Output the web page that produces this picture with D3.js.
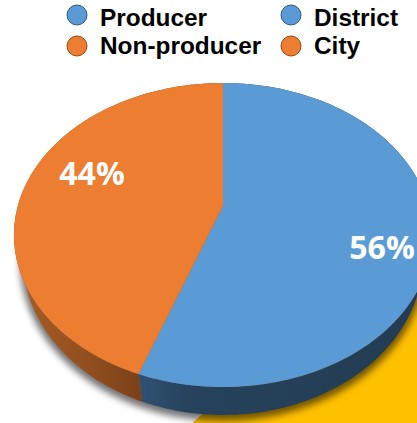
<!DOCTYPE html>
<html>
<head>
<meta charset="utf-8">
<script src="https://cdn.jsdelivr.net/npm/d3@7"></script>
<style>
body { margin: 0; background: #fff; }
svg { display: block; }
</style>
</head>
<body>
<div id="chart"></div>
<script>
// data
var slices = ["Producer", "Non-producer"];
var shares = [56, 44];
var legendLeft = ["Producer", "Non-producer"];
var legendRight = ["District", "City"];
var colors = ["#5b9bd5", "#ed7d31"];
var legendStrokes = ["#35597c", "#8a4a1e"];

var width = 417, height = 423;

var svg = d3.select("#chart")
    .append("svg")
    .attr("width", width)
    .attr("height", height);

var defs = svg.append("defs");
defs.append("filter").attr("id", "soft")
    .attr("x", "-10%").attr("y", "-10%").attr("width", "120%").attr("height", "120%")
    .append("feGaussianBlur").attr("stdDeviation", 3.5);

function wallGradient(id, stops, x1, x2) {
    var g = defs.append("linearGradient").attr("id", id)
        .attr("gradientUnits", "userSpaceOnUse")
        .attr("x1", x1).attr("x2", x2).attr("y1", 0).attr("y2", 0);
    stops.forEach(function (s) {
        g.append("stop").attr("offset", s[0]).attr("stop-color", s[1]);
    });
}
wallGradient("wall0", [[0, "#2f5273"], [0.18, "#26425c"], [1, "#233c53"]], 139, 417);
wallGradient("wall1", [[0, "#a95c24"], [0.6, "#8e4d1e"], [1, "#7a3f17"]], 20, 145);

// the pie is seen in perspective, so the rim goes through a small projection
var cx = 223, rimY = 219.8, a = 208, b = 150.5, p = 0.1;
var apex = [223, 206];

function rim(t) {
    var u = Math.sin(t), v = -Math.cos(t), w = 1 - p * v;
    return [cx + a * u / w, rimY + b * v / w];
}
// lower edge of the wall is a narrower ellipse, sitting lower
function lower(t, grow) {
    var q = rim(t), g = grow || 0;
    return [cx + (q[0] - cx) * (200 + g) / 209, 258 + g + (q[1] - 235) * (157 + g) / 152];
}
function arcPoints(t0, t1, fn, grow) {
    var n = 160;
    return d3.range(n + 1).map(function (i) {
        return fn(t0 + (t1 - t0) * i / n, grow);
    });
}

var pie = d3.pie().sort(null).value(function (d) { return d; });
var arcs = pie(shares);
var line = d3.line();

// yellow shape behind the pie
svg.append("path")
    .attr("fill", "#ffc000")
    .attr("d", line([[417, 270], [417, 423], [192, 423], [240, 383]]) + "Z");

// shadow under the pie
svg.append("path")
    .attr("fill", "#000")
    .attr("opacity", 0.55)
    .attr("filter", "url(#soft)")
    .attr("d", line(arcPoints(0, 2 * Math.PI, lower, 3)) + "Z");

// side wall
arcs.forEach(function (d, i) {
    var pts = arcPoints(d.startAngle, d.endAngle, rim)
        .concat(arcPoints(d.endAngle, d.startAngle, lower));
    svg.append("path")
        .attr("fill", "url(#wall" + i + ")")
        .attr("d", line(pts) + "Z");
});

// top face
arcs.forEach(function (d, i) {
    var pts = [apex].concat(arcPoints(d.startAngle, d.endAngle, rim));
    svg.append("path")
        .attr("fill", colors[i])
        .attr("d", line(pts) + "Z");
});

// percent labels
var labelPos = [[382, 259], [92, 185]];
svg.selectAll(".pct")
    .data(shares)
    .enter().append("text")
    .attr("class", "pct")
    .attr("x", function (d, i) { return labelPos[i][0]; })
    .attr("y", function (d, i) { return labelPos[i][1]; })
    .attr("text-anchor", "middle")
    .style("font-family", "'Open Sans', sans-serif")
    .style("font-weight", 700)
    .style("font-size", "32px")
    .attr("fill", "#fff")
    .text(function (d) { return d + "%"; });

// legend
var rowY = d3.scalePoint().domain([0, 1]).range([15, 46]);
function legendColumn(names, circleX, textX) {
    names.forEach(function (name, i) {
        svg.append("circle")
            .attr("cx", circleX)
            .attr("cy", rowY(i))
            .attr("r", 10)
            .attr("fill", colors[i])
            .attr("stroke", legendStrokes[i])
            .attr("stroke-width", 1);
        svg.append("text")
            .attr("x", textX)
            .attr("y", rowY(i) + (i === 0 ? 11 : 8))
            .style("font-family", "'Liberation Sans', Arial, sans-serif")
            .style("font-weight", 700)
            .style("font-size", "24.4px")
            .attr("fill", "#000")
            .text(name);
    });
}
legendColumn(legendLeft, 77, 100);
legendColumn(legendRight, 291, 314);
</script>
</body>
</html>
